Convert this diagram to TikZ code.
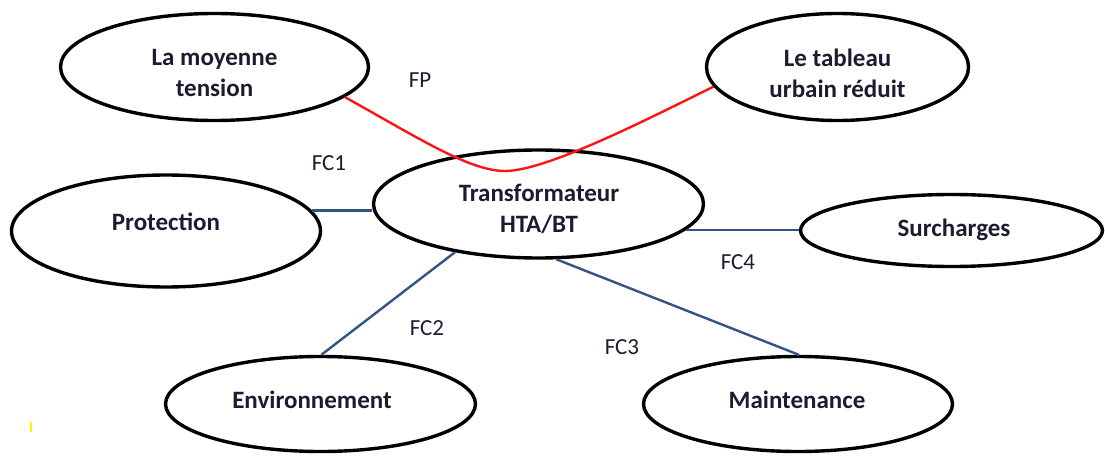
\documentclass[tikz,border=0pt]{standalone}
\usepackage{fontspec}
\setmainfont{Carlito}
\usetikzlibrary{shapes.geometric}
\definecolor{linkblue}{RGB}{52,84,130}
\definecolor{fpred}{RGB}{255,20,20}
\definecolor{ink}{RGB}{28,28,48}
\tikzset{
  bubble/.style={draw=black, line width=3.4pt, ellipse, inner sep=0pt},
  title/.style={font=\bfseries\fontsize{25}{31}\selectfont, align=center, text=ink, inner sep=0pt},
  fclink/.style={draw=linkblue, line width=2.4pt},
  fplink/.style={draw=fpred, line width=2.4pt},
  fclabel/.style={font=\fontsize{23}{27}\selectfont, text=ink, inner sep=0pt}
}
\begin{document}
\begin{tikzpicture}[x=1pt, y=-1pt]
\useasboundingbox (0,0) rectangle (1105,457);
% function bubbles
\node[bubble, minimum width=308pt, minimum height=107pt] (mt) at (214.5,67) {};
\node[bubble, minimum width=262pt, minimum height=107pt] (tab) at (837.5,67) {};
\node[bubble, minimum width=330pt, minimum height=108pt] (tr) at (538.5,204) {};
\node[bubble, minimum width=309pt, minimum height=112pt] (prot) at (166,231) {};
\node[bubble, minimum width=302pt, minimum height=72pt] (sur) at (951.5,230.5) {};
\node[bubble, minimum width=310pt, minimum height=95pt] (env) at (320.5,404) {};
\node[bubble, minimum width=309pt, minimum height=95pt] (maint) at (798,404) {};
% bubble texts
\node[title] (mt-t) at (214.5,73) {La moyenne\\tension};
\node[title] (tab-t) at (837.5,73) {Le tableau\\urbain réduit};
\node[title] (tr-t) at (539,209) {Transformateur\\HTA/BT};
\node[title] (prot-t) at (166,222) {Protection};
\node[title] (sur-t) at (954,230) {Surcharges};
\node[title] (env-t) at (312,400) {Environnement};
\node[title] (maint-t) at (797,400) {Maintenance};
% anchor points on the outlines
\coordinate (mtA) at (mt.-13);
\coordinate (tabA) at (tab.-171);
\coordinate (fpdip) at (505,171);
\coordinate (protA) at (prot.8.4);
\coordinate (trE) at (tr.-10.8);
\coordinate (trSW) at (tr.-150);
\coordinate (envN) at (env.89);
\coordinate (trS) at (tr.-72);
\coordinate (maintN) at (maint.89);
% connectors
\draw[fplink] (mtA) .. controls (420,139) and (470,171) .. (fpdip)
                    .. controls (545,171) and (640,123) .. (tabA);
\draw[fclink] (protA) -- (protA -| tr.west);
\draw[fclink] (trE) -- (trE -| sur.west);
\draw[fclink] (trSW) -- (envN);
\draw[fclink] (trS) -- (maintN);
% labels
\node[fclabel] (fp) at (420,80) {FP};
\node[fclabel] (fc1) at (329,163) {FC1};
\node[fclabel] (fc2) at (427,328) {FC2};
\node[fclabel] (fc3) at (622,347) {FC3};
\node[fclabel] (fc4) at (738,262) {FC4};
% small yellow mark at lower left
\fill[yellow] (30,422) rectangle (31.6,432);
\end{tikzpicture}
\end{document}
